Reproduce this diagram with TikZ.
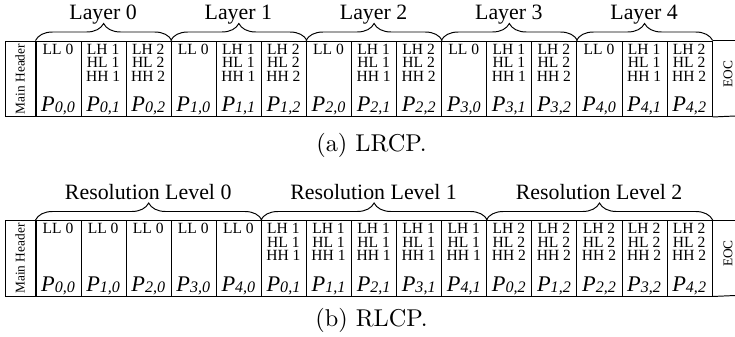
\documentclass[tikz,border=0pt]{standalone}
\usepackage{fontspec}
\newfontfamily\tms{Liberation Serif}
\usetikzlibrary{decorations.pathreplacing}
\newcommand\pkt[2]{{\tms\itshape\fontsize{9.2}{9.2}\selectfont P}\raisebox{-0.6pt}{\tms\itshape\fontsize{6.6}{6.6}\selectfont #1,#2}}
\begin{document}
\begin{tikzpicture}[x=0.4115pt, y=-0.4115pt,
  cellbox/.style={draw, line width=0.4pt, inner sep=0, minimum width=18.55pt, minimum height=31.07pt, anchor=north west},
  hdrbox/.style={draw, line width=0.4pt, inner sep=0, minimum width=12.55pt, minimum height=31.07pt, anchor=north west},
  subtxt/.style={font=\tms\fontsize{6.4}{6.4}\selectfont, anchor=base, inner sep=0},
  pktxt/.style={anchor=base, inner sep=0},
  bracestyle/.style={decorate, decoration={brace, amplitude=7pt}, line width=0.4pt},
  labtxt/.style={font=\tms\fontsize{9}{9}\selectfont, anchor=base, inner sep=0},
  vtxt/.style={font=\tms\fontsize{5.5}{5.5}\selectfont, rotate=90, inner sep=0},
  captxt/.style={font=\fontsize{10}{12}\selectfont, anchor=base, inner sep=0},
  bline/.style={line width=0.4pt}]
\useasboundingbox (0,0) rectangle (735,336);
% ---------- (a) LRCP ----------
\node[hdrbox] (a-mh) at (5,40.5) {};
\node[vtxt] (a-mht) at (20,79) {Main Header};
\foreach \i in {0,...,14} \node[cellbox] (a-c\i) at ({35.5+45.08*\i},40.5) {};
\coordinate (a-e1) at (735,40.5);
\coordinate (a-e2) at (735,116);
\draw[bline] (a-c14.north east) -- (a-e1);
\draw[bline] (a-c14.south east) -- (a-e2);
\node[vtxt] (a-eoc) at (728,74) {EOC};
\foreach \l in {0,...,4} {
  \pgfmathtruncatemacro\a{3*\l}
  \pgfmathtruncatemacro\b{3*\l+1}
  \pgfmathtruncatemacro\c{3*\l+2}
  \node[subtxt] (a-ll\l) at ({35.5+45.08*(\a+0.5)},54) {LL 0};
  \node[subtxt] (a-lh\l a) at ({35.5+45.08*(\b+0.5)},54) {LH 1};
  \node[subtxt] (a-hl\l a) at ({35.5+45.08*(\b+0.5)},67.5) {HL 1};
  \node[subtxt] (a-hh\l a) at ({35.5+45.08*(\b+0.5)},81) {HH 1};
  \node[subtxt] (a-lh\l b) at ({35.5+45.08*(\c+0.5)},54) {LH 2};
  \node[subtxt] (a-hl\l b) at ({35.5+45.08*(\c+0.5)},67.5) {HL 2};
  \node[subtxt] (a-hh\l b) at ({35.5+45.08*(\c+0.5)},81) {HH 2};
  \node[pktxt] (a-p\l x) at ({35.5+45.08*(\a+0.5)},111.5) {\pkt{\l}{0}};
  \node[pktxt] (a-p\l y) at ({35.5+45.08*(\b+0.5)},111.5) {\pkt{\l}{1}};
  \node[pktxt] (a-p\l z) at ({35.5+45.08*(\c+0.5)},111.5) {\pkt{\l}{2}};
  \draw[bracestyle] (a-c\a.north west) -- (a-c\c.north east);
  \node[labtxt] (a-lab\l) at ({35.5+45.08*(\b+0.5)},19.5) {Layer \l};
}
\node[captxt] (a-cap) at (371.5,151.5) {(a) LRCP.};
% ---------- (b) RLCP ----------
\node[hdrbox] (b-mh) at (5,220) {};
\node[vtxt] (b-mht) at (20,258.5) {Main Header};
\foreach \i in {0,...,14} \node[cellbox] (b-c\i) at ({35.5+45.08*\i},220) {};
\coordinate (b-e1) at (735,220);
\coordinate (b-e2) at (735,295.5);
\draw[bline] (b-c14.north east) -- (b-e1);
\draw[bline] (b-c14.south east) -- (b-e2);
\node[vtxt] (b-eoc) at (728,253.5) {EOC};
\foreach \p in {0,...,4} {
  \pgfmathtruncatemacro\a{\p}
  \pgfmathtruncatemacro\b{\p+5}
  \pgfmathtruncatemacro\c{\p+10}
  \node[subtxt] (b-ll\p) at ({35.5+45.08*(\a+0.5)},233.5) {LL 0};
  \node[subtxt] (b-lh\p a) at ({35.5+45.08*(\b+0.5)},233.5) {LH 1};
  \node[subtxt] (b-hl\p a) at ({35.5+45.08*(\b+0.5)},247) {HL 1};
  \node[subtxt] (b-hh\p a) at ({35.5+45.08*(\b+0.5)},260.5) {HH 1};
  \node[subtxt] (b-lh\p b) at ({35.5+45.08*(\c+0.5)},233.5) {LH 2};
  \node[subtxt] (b-hl\p b) at ({35.5+45.08*(\c+0.5)},247) {HL 2};
  \node[subtxt] (b-hh\p b) at ({35.5+45.08*(\c+0.5)},260.5) {HH 2};
  \node[pktxt] (b-p\p x) at ({35.5+45.08*(\a+0.5)},291) {\pkt{\p}{0}};
  \node[pktxt] (b-p\p y) at ({35.5+45.08*(\b+0.5)},291) {\pkt{\p}{1}};
  \node[pktxt] (b-p\p z) at ({35.5+45.08*(\c+0.5)},291) {\pkt{\p}{2}};
}
\foreach \r in {0,1,2} {
  \pgfmathtruncatemacro\a{5*\r}
  \pgfmathtruncatemacro\c{5*\r+4}
  \pgfmathtruncatemacro\b{5*\r+2}
  \draw[bracestyle] (b-c\a.north west) -- (b-c\c.north east);
  \node[labtxt] (b-lab\r) at ({35.5+45.08*(\b+0.5)},199) {Resolution Level \r};
}
\node[captxt] (b-cap) at (371.5,326.5) {(b) RLCP.};
\end{tikzpicture}
\end{document}
